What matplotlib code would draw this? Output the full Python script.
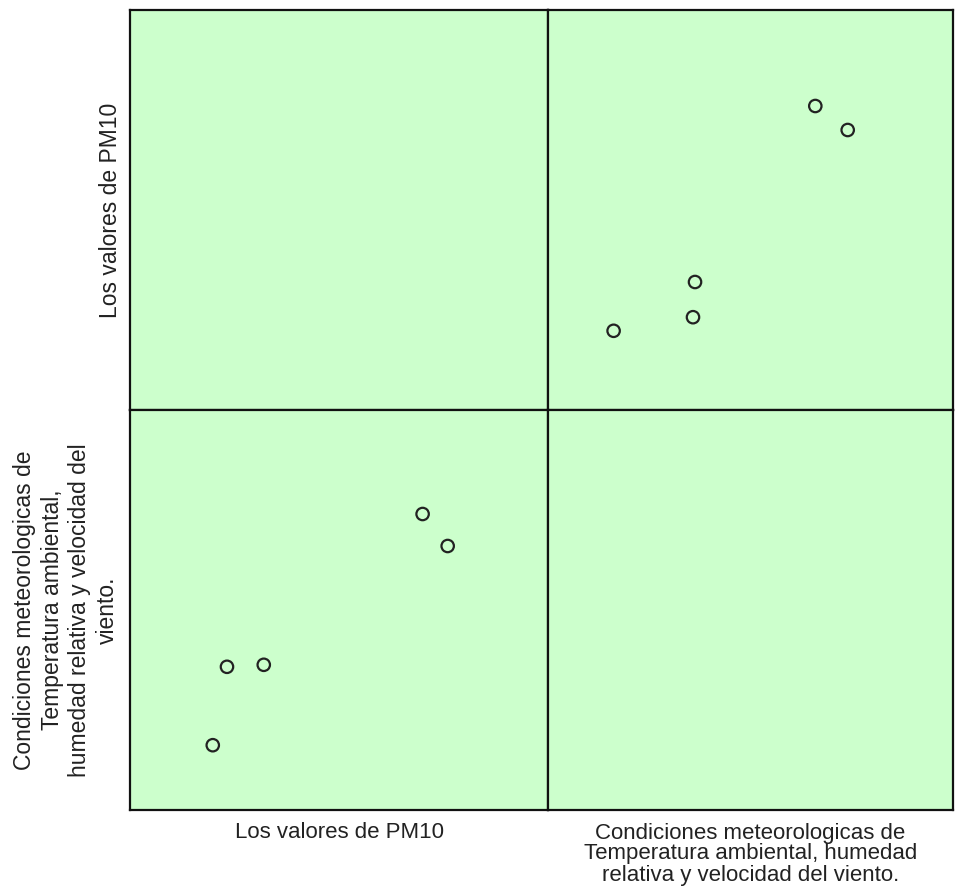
import matplotlib
matplotlib.use("Agg")
import matplotlib.pyplot as plt

plt.rcParams["font.family"] = ["Liberation Sans", "DejaVu Sans"]

# data (same 5 cases, two variables)
pm10 = [76.0, 70.0, 32.0, 23.2, 19.8]
meteo = [66.0, 74.0, 36.3, 35.8, 16.2]
lim = (0, 100)

names = ["Los valores de PM10",
         "Condiciones meteorologicas de\nTemperatura ambiental, humedad\nrelativa y velocidad del viento."]
ylabel_bottom = "Condiciones meteorologicas de\nTemperatura ambiental,\nhumedad relativa y velocidad del\nviento."
variables = [pm10, meteo]

bg = "#ccffcc"
txt = "#222222"
W, H = 955, 892
fig = plt.figure(figsize=(W / 100, H / 100), dpi=100)

xs = [130, 548, 953]
ys = [10, 410, 810]

axes = {}
for r in range(2):
    for c in range(2):
        x0, x1 = xs[c], xs[c + 1]
        y0, y1 = ys[r], ys[r + 1]
        ax = fig.add_axes([x0 / W, 1 - y1 / H, (x1 - x0) / W, (y1 - y0) / H])
        ax.set_facecolor(bg)
        ax.set_xlim(lim)
        ax.set_ylim(lim)
        ax.set_xticks([])
        ax.set_yticks([])
        for s in ax.spines.values():
            s.set_linewidth(1.6)
            s.set_color("#111111")
        if r != c:
            ax.scatter(variables[c], variables[r], s=80, facecolors="none",
                       edgecolors="#222222", linewidths=1.6, zorder=3)
        axes[(r, c)] = ax

# column labels
axes[(1, 0)].set_xlabel(names[0], fontsize=16, labelpad=9, linespacing=1.0, color=txt)
axes[(1, 1)].set_xlabel(names[1], fontsize=16, labelpad=9, linespacing=1.0, color=txt)
# row labels
axes[(0, 0)].set_ylabel(names[0], fontsize=16.5, labelpad=6, color=txt)
axes[(1, 0)].set_ylabel(ylabel_bottom, fontsize=16.5, labelpad=8, linespacing=1.25, color=txt)

fig.savefig("out.png", dpi=100)
